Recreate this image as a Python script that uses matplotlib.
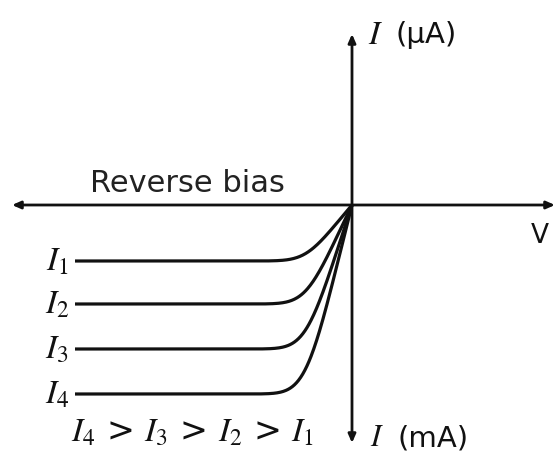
import numpy as np
import matplotlib
matplotlib.use("Agg")
import matplotlib.pyplot as plt

plt.rcParams["mathtext.fontset"] = "stix"
plt.rcParams["font.family"] = ["DejaVu Sans"]

# photocurrent plateaus (arbitrary units, reverse direction is negative)
photo_currents = [5.6, 9.9, 14.4, 18.9]
curve_labels = ["$I_1$", "$I_2$", "$I_3$", "$I_4$"]
v_start = -27.7     # left end of each characteristic
v_knee = 4.7        # voltage scale of the bend near the origin

fig = plt.figure(figsize=(5.57, 4.58), dpi=100)
ax = fig.add_axes([0, 0, 1, 1])
ax.set_xlim(-35.2, 20.5)
ax.set_ylim(-25.3, 20.5)
ax.axis("off")

ink = "#111111"

# axes with small arrowheads at each end
arrow = dict(arrowstyle="-|>,head_length=0.5,head_width=0.22", color=ink,
             lw=2.0, shrinkA=0, shrinkB=0)
ax.annotate("", xy=(-34.0, 0), xytext=(0, 0), arrowprops=arrow)
ax.annotate("", xy=(20.3, 0), xytext=(0, 0), arrowprops=arrow)
ax.annotate("", xy=(0, 17.1), xytext=(0, 0), arrowprops=arrow)
ax.annotate("", xy=(0, -23.8), xytext=(0, 0), arrowprops=arrow)

# reverse-bias characteristics: flat plateau bending into the origin
v = np.linspace(v_start, 0, 400)
for ip, lab in zip(photo_currents, curve_labels):
    i = -ip * np.sqrt(np.tanh((v / v_knee) ** 2))
    ax.plot(v, i, color=ink, lw=2.3, solid_capstyle="butt")
    ax.text(v_start - 0.6, -ip, lab, ha="right", va="center",
            fontsize=24, color=ink)

ax.text(-26.2, 2.1, "Reverse bias", ha="left", va="center",
        fontsize=22, color="#222222")
ax.text(18.8, -3.1, "V", ha="center", va="center", fontsize=19, color=ink)

# current axis labels: italic I plus unit
ax.text(1.6, 17.0, "$I$", ha="left", va="center", fontsize=24, color=ink)
ax.text(4.3, 17.0, "(μA)", ha="left", va="center", fontsize=21, color=ink)
ax.text(1.8, -23.2, "$I$", ha="left", va="center", fontsize=22, color=ink)
ax.text(4.5, -23.4, "(mA)", ha="left", va="center", fontsize=21, color=ink)

ax.text(-28.1, -22.7, "$I_4$ > $I_3$ > $I_2$ > $I_1$", ha="left",
        va="center", fontsize=24, color=ink)

fig.savefig("out.png", dpi=100)
